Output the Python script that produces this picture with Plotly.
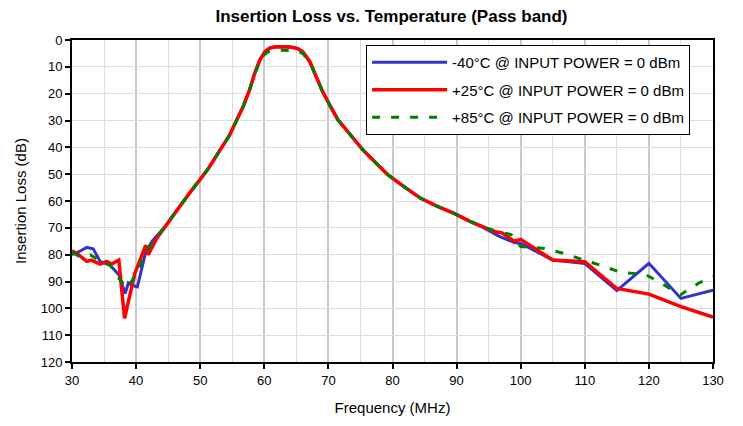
import plotly.graph_objects as go

# ---- data ----
freq_m40 = [30, 31, 32.3, 33.3, 34.4, 36, 37.3, 38.3, 38.8, 39.5, 40.2, 41.5, 42.5, 43.5,
            44.5, 46, 47.1, 48.5, 50, 51.3, 53.1, 54.6, 55.7, 56.7, 57.7, 58.5, 59.3, 60.1,
            60.8, 61.6, 63, 64.2, 65.2, 66, 67.1, 68.1, 69.1, 70.2, 71.5, 72.8, 74.1, 75.4,
            77.5, 79.3, 82, 84.4, 87, 89.6, 92, 94.3, 96.5, 99, 100, 105, 110, 115, 120, 125, 130]
loss_m40 = [80, 79, 77.3, 77.8, 82.5, 84, 87.5, 94.5, 90.5, 91.5, 92, 79, 75, 72.5,
            69.6, 64.5, 61, 56.5, 52, 47.8, 41, 35.4, 29.8, 24.8, 18.6, 12.4, 7.5, 4.4,
            3.0, 2.5, 2.4, 2.6, 3.1, 4.3, 8.0, 13.6, 19.2, 24.2, 29.8, 33.5, 37.3, 41,
            46, 50.3, 55, 59, 62, 64.6, 67.5, 70, 73, 75.5, 75.8, 82, 83.3, 93.4, 83.2, 96.3, 93.2]

freq_p25 = [30, 31, 32.3, 33, 34.4, 35.4, 36.2, 37.3, 38.2, 39.8, 41.5, 41.9, 43.2,
            44.5, 46, 47.1, 48.5, 50, 51.3, 53.1, 54.6, 55.7, 56.7, 57.7, 58.5, 59.3, 60.1,
            60.8, 61.6, 63, 64.2, 65.2, 66, 67.1, 68.1, 69.1, 70.2, 71.5, 72.8, 74.1, 75.4,
            77.5, 79.3, 82, 84.4, 87, 89.6, 92, 94.3, 96, 97, 98, 99, 100, 105, 110, 115, 120, 125, 130]
loss_p25 = [78.5, 80, 82.5, 82, 83.5, 82.5, 83.5, 82, 103.7, 87, 76.5, 80, 74,
            69.6, 64.5, 61, 56.5, 52, 47.8, 41, 35.4, 29.8, 24.8, 18.6, 12.4, 7.5, 4.4,
            3.1, 2.6, 2.5, 2.7, 3.2, 4.4, 8.1, 13.7, 19.3, 24.2, 29.8, 33.5, 37.3, 41,
            46, 50.3, 55, 59, 62, 64.6, 67.5, 69.8, 71.5, 71.8, 73.5, 75, 74.3, 82, 82.6, 92.6, 94.7, 99.4, 103.3]

freq_p85 = [30, 31, 32.8, 34.6, 36, 37, 38.6, 40.1, 41.4, 43,
            44.5, 46, 47.1, 48.5, 50, 51.3, 53.1, 54.6, 55.7, 56.7, 57.7, 58.5, 59.3, 60.1,
            60.8, 61.6, 63, 64.2, 65.2, 66, 67.1, 68.1, 69.1, 70.2, 71.5, 72.8, 74.1, 75.4,
            77.5, 79.3, 82, 84.4, 87, 89.6, 92, 94.3, 96.5, 98.5, 100, 103.5, 106.7, 110,
            112.5, 115.8, 119.4, 122, 124.9, 127.7, 130]
loss_p85 = [79, 80.5, 80, 82.6, 84, 88, 92.5, 87, 79.5, 74,
            69.6, 64.5, 61, 56.5, 52, 47.8, 41, 35.4, 29.8, 24.8, 18.6, 12.6, 8.0, 5.2,
            4.2, 3.9, 3.8, 3.9, 4.2, 5.0, 8.3, 13.7, 19.3, 24.2, 29.8, 33.5, 37.3, 41,
            46, 50.3, 55, 59, 62, 64.6, 67.5, 69.8, 71.5, 72.5, 77, 77.6, 79.5, 82,
            84, 86.7, 87.3, 90.7, 95, 90.7, 88.2]

names = ["-40°C @ INPUT POWER = 0 dBm",
         "+25°C @ INPUT POWER = 0 dBm",
         "+85°C @ INPUT POWER = 0 dBm"]

x_ticks = [30, 40, 50, 60, 70, 80, 90, 100, 110, 120, 130]
y_ticks = [0, 10, 20, 30, 40, 50, 60, 70, 80, 90, 100, 110, 120]

FONT = "Arial, Liberation Sans, sans-serif"

fig = go.Figure()
fig.add_trace(go.Scatter(x=freq_m40, y=loss_m40, mode="lines", name=names[0],
                         legendgroup="a", line=dict(color="#3333CC", width=3)))
fig.add_trace(go.Scatter(x=freq_p25, y=loss_p25, mode="lines", name=names[1],
                         legendgroup="b", line=dict(color="#FF0000", width=3.5)))
fig.add_trace(go.Scatter(x=freq_p85, y=loss_p85, mode="lines", name=names[2],
                         legendgroup="c", line=dict(color="#008000", width=3, dash="8px,11px")))

# page body has an 8px margin: figure is 735x418 so plot area lands at x 70..713, y 40..362
fig.update_layout(
    width=735, height=418,
    margin=dict(l=62, r=30, t=32, b=64),
    paper_bgcolor="white", plot_bgcolor="white",
    font=dict(family=FONT, size=13, color="black"),
    title=dict(text="<b>Insertion Loss vs. Temperature (Pass band)</b>",
               x=(62 + 643 / 2) / 735, xanchor="center",
               y=1 - 8 / 418, yanchor="middle", yref="container",
               font=dict(family=FONT, size=17, color="black")),
    showlegend=True,
    legend=dict(x=(365 - 70) / 643, y=1 - 5 / 322, xanchor="left", yanchor="top",
                bgcolor="white", bordercolor="black", borderwidth=1,
                font=dict(family=FONT, size=15, color="black"),
                itemwidth=75, tracegroupgap=5, traceorder="grouped"),
    xaxis=dict(range=[30, 130], tickvals=x_ticks, ticks="outside", ticklen=5,
               tickcolor="black", tickwidth=1.5,
               showline=True, linecolor="black", linewidth=2, mirror=True,
               showgrid=True, gridcolor="#c8c8c8", gridwidth=2,
               minor=dict(dtick=5, showgrid=True, gridcolor="#dcdcdc", gridwidth=1),
               zeroline=False,
               title=dict(text="Frequency (MHz)", font=dict(size=15), standoff=16)),
    yaxis=dict(range=[120, 0], tickvals=y_ticks, ticks="outside", ticklen=5,
               tickcolor="black", tickwidth=1.5,
               showline=True, linecolor="black", linewidth=2, mirror=True,
               showgrid=True, gridcolor="#dcdcdc", gridwidth=1, zeroline=False,
               title=dict(text="Insertion Loss (dB)", font=dict(size=15), standoff=10)),
)

fig.write_html("out.html")
